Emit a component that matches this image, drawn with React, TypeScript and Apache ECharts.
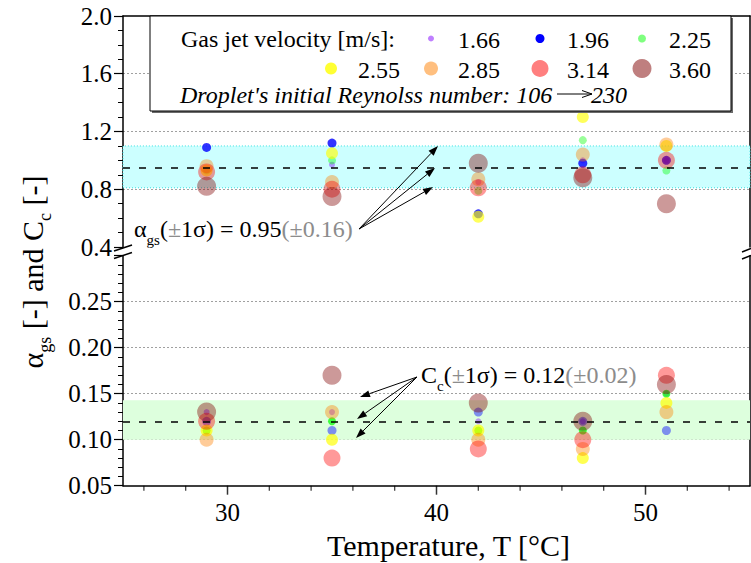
import React, { useEffect, useRef } from "react";
import * as echarts from "echarts";

// ---------------- data ----------------
const temperatures = [29, 35, 42, 47, 51];
const velocities = ["1.66", "1.96", "2.25", "2.55", "2.85", "3.14", "3.60"];
// alpha_gs per velocity (rows) at each temperature (columns)
const alphaGs1_66 = [0.93, 0.97, 0.85, 1.0, 1.0];
const alphaGs1_96 = [1.09, 1.12, 0.63, 0.98, 1.0];
const alphaGs2_25 = [0.93, 1.0, 0.79, 1.14, 0.93];
const alphaGs2_55 = [0.93, 1.05, 0.61, 1.3, 1.1];
const alphaGs2_85 = [0.96, 0.85, 0.87, 1.04, 1.11];
const alphaGs3_14 = [0.92, 0.8, 0.81, 0.9, 1.0];
const alphaGs3_60 = [0.82, 0.75, 0.98, 0.88, 0.7];
const alphaGs = [alphaGs1_66, alphaGs1_96, alphaGs2_25, alphaGs2_55, alphaGs2_85, alphaGs3_14, alphaGs3_60];
// C_c per velocity
const cc1_66 = [0.13, 0.13, 0.12, 0.12, 0.15];
const cc1_96 = [0.12, 0.11, 0.13, 0.12, 0.11];
const cc2_25 = [0.11, 0.12, 0.11, 0.11, 0.15];
const cc2_55 = [0.11, 0.1, 0.11, 0.08, 0.14];
const cc2_85 = [0.1, 0.13, 0.1, 0.09, 0.13];
const cc3_14 = [0.12, 0.08, 0.09, 0.1, 0.17];
const cc3_60 = [0.13, 0.17, 0.14, 0.12, 0.16];
const cc = [cc1_66, cc1_96, cc2_25, cc2_55, cc2_85, cc3_14, cc3_60];

const alphaMean = 0.955;
const alphaBand = [0.81, 1.1];
const ccMean = 0.121;
const ccBand = [0.1, 0.143];

const xMajorTicks = [30, 40, 50];
const xMinorTicks = [26, 28, 32, 34, 36, 38, 42, 44, 46, 48, 52, 54];

// ---------------- styles ----------------
const FONT = "'Liberation Serif', serif";
const rgb = ["128,0,255", "0,0,255", "0,255,0", "255,255,0", "255,128,0", "255,0,0", "128,0,0"];
const topAlpha = [0.5, 1, 0.5, 0.8, 0.5, 0.5, 0.5];
const bottomAlpha = [0.5, 0.55, 0.9, 0.85, 0.5, 0.5, 0.5];
const sizes = [6, 9, 8, 12, 14, 17, 19];

function arrow(x1: number, y1: number, x2: number, y2: number, z: number, L = 10, w = 3.5) {
  const dx = x2 - x1;
  const dy = y2 - y1;
  const len = Math.sqrt(dx * dx + dy * dy);
  const ux = dx / len;
  const uy = dy / len;
  const bx = x2 - ux * L;
  const by = y2 - uy * L;
  const px = -uy;
  const py = ux;
  return [
    { type: "line", z, shape: { x1, y1, x2: bx, y2: by }, style: { stroke: "#000", lineWidth: 1 } },
    {
      type: "polygon",
      z,
      shape: { points: [[x2, y2], [bx + px * w, by + py * w], [bx - px * w, by - py * w]] },
      style: { fill: "#000" },
    },
  ];
}

export default function App() {
  const ref = useRef<HTMLDivElement>(null);

  useEffect(() => {
    document.body.style.margin = "0";
    if (!ref.current) return;
    const chart = echarts.init(ref.current, undefined, { renderer: "svg" });

    const series: any[] = [];
    // bands
    series.push({
      type: "scatter",
      xAxisIndex: 0,
      yAxisIndex: 0,
      data: [],
      z: 1,
      silent: true,
      markArea: {
        silent: true,
        itemStyle: { color: "#ccffff", borderColor: "#33e0e0", borderWidth: 1, borderType: [1, 2] },
        data: [[{ yAxis: alphaBand[0] }, { yAxis: alphaBand[1] }]],
      },
    });
    series.push({
      type: "scatter",
      xAxisIndex: 1,
      yAxisIndex: 2,
      data: [],
      z: 1,
      silent: true,
      markArea: {
        silent: true,
        itemStyle: { color: "#ddffdd" },
        data: [[{ yAxis: ccBand[0] }, { yAxis: ccBand[1] }]],
      },
    });
    // points
    velocities.forEach((v, i) => {
      series.push({
        type: "scatter",
        name: v,
        xAxisIndex: 0,
        yAxisIndex: 0,
        symbol: "circle",
        symbolSize: sizes[i],
        itemStyle: { color: `rgba(${rgb[i]},${topAlpha[i]})` },
        data: temperatures.map((t, j) => [t, alphaGs[i][j]]),
        z: 3,
      });
      series.push({
        type: "scatter",
        name: v,
        xAxisIndex: 1,
        yAxisIndex: 2,
        symbol: "circle",
        symbolSize: sizes[i],
        itemStyle: { color: `rgba(${rgb[i]},${bottomAlpha[i]})` },
        data: temperatures.map((t, j) => [t, cc[i][j]]),
        z: 3,
      });
    });
    // mean lines
    const meanLine = (val: number) => ({
      silent: true,
      symbol: "none",
      label: { show: false },
      lineStyle: { color: "#000", type: [7, 9], width: 1.5 },
      data: [{ yAxis: val }],
    });
    series.push({ type: "scatter", xAxisIndex: 0, yAxisIndex: 0, data: [], z: 5, silent: true, markLine: meanLine(alphaMean) });
    series.push({ type: "scatter", xAxisIndex: 1, yAxisIndex: 2, data: [], z: 5, silent: true, markLine: meanLine(ccMean) });
    // x ticks
    series.push({
      type: "scatter",
      xAxisIndex: 1,
      yAxisIndex: 2,
      clip: false,
      silent: true,
      symbol: "rect",
      symbolSize: [1.5, 9],
      symbolOffset: [0, 4.5],
      itemStyle: { color: "#000" },
      data: xMajorTicks.map((t) => [t, 0.05]),
      z: 6,
    });
    series.push({
      type: "scatter",
      xAxisIndex: 1,
      yAxisIndex: 2,
      clip: false,
      silent: true,
      symbol: "rect",
      symbolSize: [1.2, 5],
      symbolOffset: [0, 2.5],
      itemStyle: { color: "#000" },
      data: xMinorTicks.map((t) => [t, 0.05]),
      z: 6,
    });

    const axisLine = { show: true, lineStyle: { color: "#000", width: 1.5 } };
    const splitLine = {
      show: true,
      showMinLine: false,
      showMaxLine: false,
      lineStyle: { color: "#a0a0a0", type: [2, 2], width: 1 },
    };
    const labelStyle = { color: "#000", fontFamily: FONT, fontSize: 25 };

    const graphic: any[] = [];
    // legend box
    graphic.push({ type: "rect", z: 20, shape: { x: 152, y: 18, width: 581, height: 95 }, style: { fill: "#6a6a6a" } });
    graphic.push({
      type: "rect",
      z: 21,
      shape: { x: 150, y: 16, width: 581, height: 95 },
      style: { fill: "#fff", stroke: "#000", lineWidth: 1 },
    });
    graphic.push({
      type: "text",
      z: 22,
      x: 181,
      y: 39,
      style: { text: "Gas jet velocity [m/s]:", fontSize: 24, fontFamily: FONT, fill: "#000", align: "left", verticalAlign: "middle" },
    });
    const cols = [331, 431, 540, 642];
    velocities.forEach((v, i) => {
      const col = i < 3 ? cols[i + 1] : cols[i - 3];
      const y = i < 3 ? 38.5 : 68.5;
      graphic.push({
        type: "circle",
        z: 22,
        shape: { cx: col, cy: y, r: sizes[i] / 2 },
        style: { fill: `rgba(${rgb[i]},${topAlpha[i]})` },
      });
      graphic.push({
        type: "text",
        z: 22,
        x: col + 27,
        y: y + 1,
        style: { text: v, fontSize: 24, fontFamily: FONT, fill: "#000", align: "left", verticalAlign: "middle" },
      });
    });
    graphic.push({
      type: "text",
      z: 22,
      x: 180,
      y: 95,
      style: {
        text: "Droplet's initial Reynolss number: 106",
        fontSize: 24,
        fontStyle: "italic",
        fontFamily: FONT,
        fill: "#000",
        align: "left",
        verticalAlign: "middle",
      },
    });
    graphic.push({ type: "line", z: 22, shape: { x1: 557, y1: 94, x2: 592, y2: 94 }, style: { stroke: "#000", lineWidth: 1 } });
    graphic.push({
      type: "polyline",
      z: 22,
      shape: { points: [[582, 90.5], [592, 94], [582, 97.5]] },
      style: { stroke: "#000", lineWidth: 1, fill: "none" },
    });
    graphic.push({
      type: "text",
      z: 22,
      x: 591,
      y: 95,
      style: { text: "230", fontSize: 24, fontStyle: "italic", fontFamily: FONT, fill: "#000", align: "left", verticalAlign: "middle" },
    });

    // annotations
    const richAnn = {
      m: { fontSize: 24, fontFamily: FONT, fill: "#000", verticalAlign: "middle" },
      g: { fontSize: 24, fontFamily: FONT, fill: "#8c8c8c", verticalAlign: "middle" },
      s: { fontSize: 15, fontFamily: FONT, fill: "#000", verticalAlign: "middle", padding: [22, 0, 0, 0] },
    };
    graphic.push({
      type: "text",
      z: 20,
      x: 134,
      y: 229,
      style: {
        text: "{m|α}{s|gs}{m|(}{g|±}{m|1σ) = 0.95}{g|(±0.16)}",
        rich: richAnn,
        fontSize: 24,
        fontFamily: FONT,
        align: "left",
        verticalAlign: "middle",
      },
    });
    graphic.push({
      type: "text",
      z: 20,
      x: 421,
      y: 375,
      style: {
        text: "{m|C}{s|c}{m|(}{g|±}{m|1σ) = 0.12}{g|(±0.02)}",
        rich: richAnn,
        fontSize: 24,
        fontFamily: FONT,
        align: "left",
        verticalAlign: "middle",
      },
    });
    [[438, 146], [435, 168], [433, 187]].forEach(([x, y]) => graphic.push(...arrow(359, 229, x, y, 20)));
    [[360, 397], [357, 419], [356, 438]].forEach(([x, y]) => graphic.push(...arrow(417, 377, x, y, 20)));

    // axis titles
    graphic.push({
      type: "text",
      z: 20,
      x: 448.5,
      y: 545,
      style: { text: "Temperature, T [°C]", fontSize: 30, fontFamily: FONT, fill: "#000", align: "center", verticalAlign: "middle" },
    });
    graphic.push({
      type: "text",
      z: 20,
      x: 32,
      y: 272,
      rotation: Math.PI / 2,
      style: {
        text: "{m|α}{s|gs}{m| [-] and C}{s|c}{m| [-]}",
        rich: {
          m: { fontSize: 30, fontFamily: FONT, fill: "#000", verticalAlign: "middle" },
          s: { fontSize: 18, fontFamily: FONT, fill: "#000", verticalAlign: "middle", padding: [26, 0, 0, 0] },
        },
        fontSize: 30,
        fontFamily: FONT,
        align: "center",
        verticalAlign: "middle",
      },
    });

    // axis breaks
    const brk = (x1: number, y1: number, x2: number, y2: number) => ({
      type: "line",
      z: 20,
      shape: { x1, y1, x2, y2 },
      style: { stroke: "#000", lineWidth: 1.5 },
    });
    graphic.push(brk(114, 251, 132, 245), brk(114, 258.5, 132, 252.5));
    graphic.push(brk(742, 252, 751, 248.5), brk(742, 259, 751, 255.5));

    const option: any = {
      animation: false,
      backgroundColor: "#fff",
      textStyle: { fontFamily: FONT },
      grid: [
        { left: 123, top: 16, width: 627, height: 231, outerBoundsMode: "none" },
        { left: 123, top: 255.7, width: 627, height: 230, outerBoundsMode: "none" },
      ],
      xAxis: [
        {
          type: "value",
          gridIndex: 0,
          position: "top",
          min: 25,
          max: 55,
          interval: 5,
          axisLine,
          axisTick: { show: false },
          axisLabel: { show: false },
          splitLine: { show: false },
        },
        {
          type: "value",
          gridIndex: 1,
          position: "bottom",
          min: 25,
          max: 55,
          interval: 5,
          axisLine,
          axisTick: { show: false },
          axisLabel: {
            ...labelStyle,
            margin: 14,
            formatter: (v: number) => (Math.abs(v % 10) < 1e-6 ? String(v) : ""),
          },
          splitLine: { show: false },
        },
      ],
      yAxis: [
        {
          type: "value",
          gridIndex: 0,
          position: "left",
          min: 0.4,
          max: 2.0,
          interval: 0.4,
          axisLine,
          axisTick: { show: true, inside: false, length: 9, lineStyle: { color: "#000", width: 1.2 } },
          minorTick: { show: true, splitNumber: 4, length: 5, lineStyle: { color: "#000", width: 1 } },
          axisLabel: { ...labelStyle, margin: 11, formatter: (v: number) => v.toFixed(1) },
          splitLine,
        },
        {
          type: "value",
          gridIndex: 0,
          position: "right",
          min: 0.4,
          max: 2.0,
          interval: 0.4,
          axisLine,
          axisTick: { show: false },
          axisLabel: { show: false },
          splitLine: { show: false },
        },
        {
          type: "value",
          gridIndex: 1,
          position: "left",
          min: 0.05,
          max: 0.3,
          interval: 0.05,
          axisLine,
          axisTick: { show: true, inside: false, length: 9, lineStyle: { color: "#000", width: 1.2 } },
          minorTick: { show: true, splitNumber: 5, length: 5, lineStyle: { color: "#000", width: 1 } },
          axisLabel: { ...labelStyle, margin: 11, formatter: (v: number) => (v > 0.29 ? "" : v.toFixed(2)) },
          splitLine,
        },
        {
          type: "value",
          gridIndex: 1,
          position: "right",
          min: 0.05,
          max: 0.3,
          interval: 0.05,
          axisLine,
          axisTick: { show: false },
          axisLabel: { show: false },
          splitLine: { show: false },
        },
      ],
      series,
      graphic,
    };
    chart.setOption(option);
    return () => chart.dispose();
  }, []);

  return <div ref={ref} style={{ width: 751, height: 563 }} />;
}
